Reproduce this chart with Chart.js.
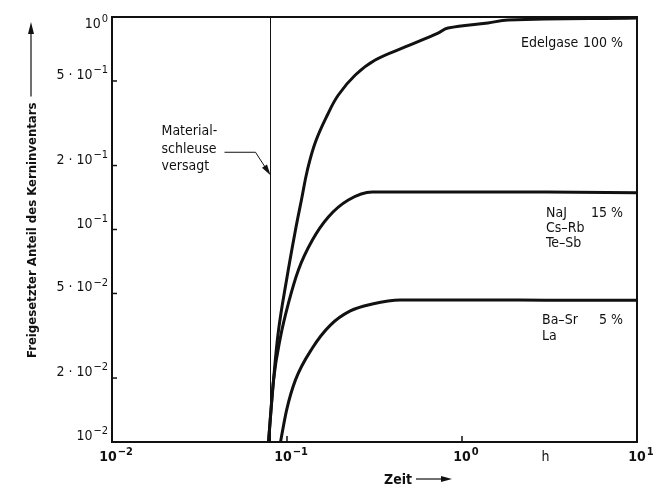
<!DOCTYPE html>
<html>
<head>
<meta charset="utf-8">
<script src="https://cdn.jsdelivr.net/npm/chart.js@4/dist/chart.umd.min.js"></script>
<style>
  body { margin: 0; background: #fff; }
  #chart { display: block; }
</style>
</head>
<body>
<canvas id="chart" width="659" height="493"></canvas>
<script>
// Data (Zeit in h, released fraction of core inventory)
const edelgasX = [0.0784, 0.0838, 0.0895, 0.0994, 0.1118, 0.1209, 0.1308, 0.1454, 0.1701, 0.1965, 0.2456, 0.3193, 0.4734, 0.7297, 0.8321, 1.406, 1.829, 10];
const edelgasY = [0.01, 0.0196, 0.0337, 0.0579, 0.0995, 0.1376, 0.1905, 0.2581, 0.3458, 0.4295, 0.5334, 0.6275, 0.7227, 0.8406, 0.8876, 0.9371, 0.968, 0.989];

const najX = [0.0784, 0.0838, 0.0918, 0.102, 0.1162, 0.1397, 0.1723, 0.2241, 0.307, 0.4734, 1, 3, 10];
const najY = [0.01, 0.0196, 0.0312, 0.0451, 0.0645, 0.0892, 0.1145, 0.1376, 0.1501, 0.150, 0.150, 0.150, 0.149];

const basrX = [0.0918, 0.0994, 0.1118, 0.1397, 0.177, 0.23, 0.307, 0.4433, 1, 3, 10];
const basrY = [0.01, 0.0141, 0.0196, 0.0277, 0.0355, 0.0414, 0.0446, 0.0466, 0.0466, 0.0465, 0.0464];

// moment the "Materialschleuse" fails
const failTime = 0.0805;
const failArrowAt = 0.18;

const xTickValues = [0.01, 0.1, 1, 10];
const xTickLabels = ['10^-2', '10^-1', '10^0', '10^1'];
const xUnit = 'h';
const xUnitAt = 3;

const yTickValues = [1, 0.5, 0.2, 0.1, 0.05, 0.02, 0.01];
const yTickLabels = ['10^0', '5 · 10^-1', '2 · 10^-1', '10^-1', '5 · 10^-2', '2 · 10^-2', '10^-2'];

const xTitle = 'Zeit';
const yTitle = 'Freigesetzter Anteil des Kerninventars';
const noteLines = ['Material-', 'schleuse', 'versagt'];

const FONT = "'Liberation Sans Narrow', 'DejaVu Sans Condensed', 'Arial Narrow', sans-serif";
const INK = '#111';

function toPoints(xs, ys) {
  return xs.map((v, i) => ({ x: v, y: ys[i] }));
}

// draws "5 · 10^-1" with a raised exponent
function drawPow(ctx, text, x, y, align, size, weight) {
  const parts = text.split('^');
  const base = parts[0];
  const exp = parts[1] ? parts[1].replace('-', '\u2212') : '';
  const big = weight + ' ' + size + 'px ' + FONT;
  const small = weight + ' ' + Math.round(size * 0.78) + 'px ' + FONT;
  ctx.font = big;
  const wb = ctx.measureText(base).width;
  ctx.font = small;
  const we = ctx.measureText(exp).width;
  let x0 = x;
  if (align === 'right') x0 = x - wb - we - 1;
  if (align === 'center') x0 = x - (wb + we + 1) / 2;
  ctx.textAlign = 'left';
  ctx.textBaseline = 'alphabetic';
  ctx.font = big;
  ctx.fillText(base, x0, y);
  ctx.font = small;
  ctx.fillText(exp, x0 + wb + 1, y - size * 0.42);
}

function arrowHead(ctx, fx, fy, tx, ty, len, half) {
  const a = Math.atan2(ty - fy, tx - fx);
  ctx.beginPath();
  ctx.moveTo(tx, ty);
  ctx.lineTo(tx - len * Math.cos(a) + half * Math.sin(a), ty - len * Math.sin(a) - half * Math.cos(a));
  ctx.lineTo(tx - len * Math.cos(a) - half * Math.sin(a), ty - len * Math.sin(a) + half * Math.cos(a));
  ctx.closePath();
  ctx.fill();
}

const refPlugin = {
  id: 'refDecor',
  afterDraw(chart) {
    const ctx = chart.ctx;
    const a = chart.chartArea;
    const xs = chart.scales.x;
    const ys = chart.scales.y;
    ctx.save();
    ctx.fillStyle = INK;
    ctx.strokeStyle = INK;

    // frame
    ctx.lineWidth = 2;
    ctx.strokeRect(a.left, a.top, a.right - a.left, a.bottom - a.top);

    // y ticks + labels
    ctx.lineWidth = 1.5;
    yTickValues.forEach((v, i) => {
      const py = ys.getPixelForValue(v);
      ctx.beginPath();
      ctx.moveTo(a.left, py);
      ctx.lineTo(a.left + 5, py);
      ctx.stroke();
      const by = Math.max(py - 2, a.top + 11);
      drawPow(ctx, yTickLabels[i], a.left - 4, by, 'right', 14, 'normal');
    });

    // x ticks + labels
    xTickValues.forEach((v, i) => {
      const px = xs.getPixelForValue(v);
      ctx.beginPath();
      ctx.moveTo(px, a.bottom);
      ctx.lineTo(px, a.bottom - 6);
      ctx.stroke();
      drawPow(ctx, xTickLabels[i], px + 4, a.bottom + 19, 'center', 14, 'bold');
    });
    ctx.font = 'normal 14px ' + FONT;
    ctx.textAlign = 'center';
    ctx.fillText(xUnit, xs.getPixelForValue(xUnitAt), a.bottom + 19);

    // x title with arrow
    ctx.font = 'bold 14px ' + FONT;
    ctx.textAlign = 'left';
    ctx.fillText(xTitle, 384, 484);
    const zw = ctx.measureText(xTitle).width;
    ctx.lineWidth = 1.2;
    ctx.beginPath();
    ctx.moveTo(384 + zw + 4, 479);
    ctx.lineTo(443, 479);
    ctx.stroke();
    arrowHead(ctx, 400, 479, 452, 479, 11, 3);

    // y title with arrow
    ctx.save();
    ctx.translate(36, 358);
    ctx.rotate(-Math.PI / 2);
    ctx.font = 'bold 13px ' + FONT;
    ctx.textAlign = 'left';
    ctx.fillText(yTitle, 0, 0);
    const tw = ctx.measureText(yTitle).width;
    ctx.beginPath();
    ctx.moveTo(tw + 6, -5);
    ctx.lineTo(326, -5);
    ctx.stroke();
    arrowHead(ctx, tw, -5, 336, -5, 12, 3);
    ctx.restore();

    // curve labels
    ctx.font = 'normal 14px ' + FONT;
    const rx = a.right - 14;
    ctx.textAlign = 'left';
    ctx.fillText('Edelgase', 521, 47);
    ctx.textAlign = 'right';
    ctx.fillText('100 %', rx, 47);

    ctx.textAlign = 'left';
    ctx.fillText('NaJ', 546, 217);
    ctx.fillText('Cs\u2013Rb', 546, 232);
    ctx.fillText('Te\u2013Sb', 546, 247);
    ctx.textAlign = 'right';
    ctx.fillText('15 %', rx, 217);

    ctx.textAlign = 'left';
    ctx.fillText('Ba\u2013Sr', 542, 324);
    ctx.fillText('La', 542, 340);
    ctx.textAlign = 'right';
    ctx.fillText('5 %', rx, 324);

    // note with leader arrow
    const tx = xs.getPixelForValue(failTime);
    const ty = ys.getPixelForValue(failArrowAt);
    ctx.textAlign = 'left';
    noteLines.forEach((s, i) => ctx.fillText(s, tx - 109, ty - 40 + i * 17.5));
    ctx.lineWidth = 1;
    ctx.beginPath();
    ctx.moveTo(tx - 46, ty - 23);
    ctx.lineTo(tx - 15, ty - 23);
    ctx.lineTo(tx - 4, ty - 6);
    ctx.stroke();
    arrowHead(ctx, tx - 15, ty - 23, tx, ty, 11, 3);

    ctx.restore();
  }
};

const lineStyle = {
  borderColor: INK,
  borderWidth: 3,
  pointRadius: 0,
  fill: false
};

new Chart(document.getElementById('chart'), {
  type: 'line',
  data: {
    datasets: [
      Object.assign({ label: 'Edelgase', data: toPoints(edelgasX, edelgasY), tension: 0.4 }, lineStyle),
      Object.assign({ label: 'NaJ Cs-Rb Te-Sb', data: toPoints(najX, najY), cubicInterpolationMode: 'monotone' }, lineStyle),
      Object.assign({ label: 'Ba-Sr La', data: toPoints(basrX, basrY), cubicInterpolationMode: 'monotone' }, lineStyle),
      {
        label: 'Materialschleuse versagt',
        data: [{ x: failTime, y: 0.01 }, { x: failTime, y: 1 }],
        borderColor: INK,
        borderWidth: 1,
        pointRadius: 0,
        tension: 0
      }
    ]
  },
  options: {
    responsive: false,
    devicePixelRatio: 1,
    animation: false,
    layout: { padding: { left: 112, right: 22, top: 17, bottom: 51 } },
    plugins: {
      legend: { display: false },
      tooltip: { enabled: false }
    },
    scales: {
      x: { type: 'logarithmic', min: 0.01, max: 10, display: false },
      y: { type: 'logarithmic', min: 0.01, max: 1, display: false }
    }
  },
  plugins: [refPlugin]
});
</script>
</body>
</html>
